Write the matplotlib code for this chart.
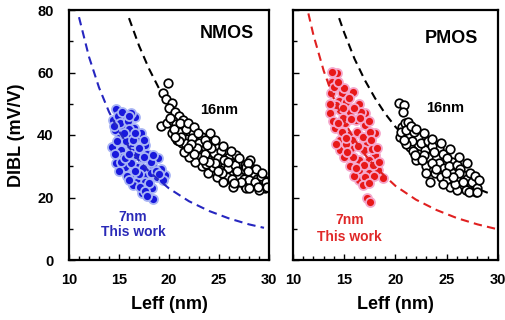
import numpy as np
import matplotlib
matplotlib.use('Agg')
import matplotlib.pyplot as plt
from matplotlib.ticker import MultipleLocator

plt.rcParams['font.family'] = ['Liberation Sans', 'DejaVu Sans']
plt.rcParams['font.weight'] = 'bold'
plt.rcParams['axes.labelweight'] = 'bold'

# ---- NMOS data ----
n7_L = [14.7, 15.6, 16.6, 14.4, 15.4, 16.5, 15.9, 16.9, 17.6, 14.3, 16.1, 15.2, 16.3, 17.3,
        18.9, 14.7, 15.6, 16.8, 18.4, 16.1, 17.6, 19.6, 16.8, 18.8, 17.6, 17.3, 18.4, 18.3,
        14.9, 15.1, 15.9, 16.2, 14.6, 15.0, 15.7, 16.4, 17.2, 14.8, 15.4, 16.7, 17.8, 18.2,
        15.2, 16.2, 17.4, 19.2, 15.8, 17.0, 18.2, 19.4, 16.4, 17.1, 18.0, 17.6, 15.6, 14.6,
        17.0, 16.0, 15.3, 16.0, 14.5, 15.5, 16.6, 17.5, 16.0, 17.5, 18.4, 18.7, 19.0, 16.6,
        15.0, 16.0, 17.8]
n7_D = [48.3, 46.4, 45.8, 44.8, 42.7, 42.1, 40.0, 39.5, 36.8, 36.3, 36.8, 35.2, 34.7, 32.5,
        32.5, 30.9, 29.9, 29.9, 29.9, 27.2, 27.2, 27.2, 25.0, 26.7, 25.0, 21.3, 19.4, 23.0,
        46.0, 44.0, 44.5, 47.0, 41.5, 39.0, 38.0, 38.5, 40.5, 38.0, 33.0, 33.5, 34.0, 31.5,
        31.5, 31.0, 29.5, 29.0, 27.0, 27.5, 27.8, 25.5, 24.0, 23.5, 24.5, 22.0, 32.5, 34.0,
        36.0, 42.0, 47.5, 46.0, 43.0, 40.5, 40.5, 38.5, 34.0, 33.0, 33.5, 28.5, 27.5, 28.5,
        28.5, 25.5, 20.5]

n16_L = [19.9, 19.4, 19.7, 20.3, 20.0, 20.6, 21.0, 19.2, 19.8, 20.4, 20.9, 21.4, 22.0, 21.3,
         21.8, 22.4, 22.6, 23.3, 21.3, 22.1, 22.9, 23.5, 24.1, 24.3, 24.8, 23.1, 23.8, 24.5,
         25.2, 26.0, 26.7, 25.0, 25.6, 24.3, 25.1, 26.2, 26.5, 27.1, 27.6, 27.3, 26.0, 26.9,
         27.8, 28.2, 28.5, 28.8, 29.1, 29.4, 28.3, 27.6, 29.6, 29.0, 26.4, 27.7, 25.6, 24.8,
         23.9, 23.3, 22.6, 22.0, 21.5, 20.8, 20.3, 21.6, 24.4, 25.8, 28.1, 27.7, 21.0, 21.7,
         22.3, 23.0, 23.6, 24.2, 24.9, 25.5, 25.9, 26.6, 27.0, 27.5, 28.0, 28.6, 29.2, 26.3,
         25.3, 24.6, 23.7, 22.8, 22.2, 21.2, 20.7, 20.1, 20.5, 21.1, 21.9, 22.5, 22.9, 23.6,
         24.6, 25.4, 26.2, 27.0, 27.9, 28.7, 29.3, 29.7, 29.8, 28.9, 28.0, 27.2, 26.5, 25.4,
         24.9, 24.0, 23.4, 22.5, 21.9, 21.0, 20.6, 26.8, 25.9, 27.9, 23.8]
n16_D = [56.8, 53.3, 51.6, 50.2, 48.6, 47.5, 46.0, 43.0, 43.8, 44.5, 42.2, 44.8, 43.0, 40.5,
         38.8, 41.0, 38.0, 39.5, 37.3, 35.5, 35.0, 36.5, 40.8, 37.5, 36.0, 33.0, 32.5, 34.2,
         35.0, 33.0, 33.6, 31.5, 30.5, 30.0, 28.8, 31.2, 29.0, 31.0, 30.5, 28.2, 27.5, 25.0,
         27.0, 29.5, 27.5, 26.0, 24.6, 25.8, 24.0, 23.8, 23.0, 22.5, 23.4, 23.0, 25.5, 26.5,
         28.0, 30.0, 31.5, 33.0, 34.5, 38.5, 40.5, 37.4, 29.8, 26.6, 32.0, 29.9, 41.0, 41.8,
         39.0, 37.5, 34.0, 35.8, 32.8, 32.0, 29.5, 30.5, 27.0, 26.0, 25.5, 25.0, 27.0, 26.0,
         27.8, 31.0, 30.6, 36.0, 37.0, 39.5, 43.5, 45.5, 42.0, 44.0, 44.0, 42.5, 40.5, 38.5,
         38.5, 36.5, 34.8, 32.5, 31.0, 29.0, 28.0, 25.0, 23.5, 23.5, 23.2, 25.0, 24.5, 25.0,
         28.5, 31.5, 32.0, 34.0, 36.0, 38.0, 39.5, 28.5, 31.5, 28.5, 36.8]

# ---- PMOS data ----
p7_L = [14.3, 13.8, 13.7, 14.8, 15.9, 13.6, 14.6, 15.6, 17.0, 16.1, 15.1, 17.0, 14.1, 16.2,
        15.4, 18.0, 14.6, 17.2, 15.7, 16.9, 14.6, 18.0, 16.4, 17.4, 16.4, 18.3, 17.4, 16.4,
        17.2, 17.5, 13.8, 18.8, 14.0, 14.5, 15.2, 15.0, 16.4, 14.2, 13.9, 14.9, 15.7, 16.6,
        16.8, 14.8, 15.8, 17.5, 15.2, 16.3, 17.7, 15.0, 15.9, 16.9, 17.8, 15.6, 16.0, 17.0,
        17.9, 16.8, 15.3, 14.2, 16.0, 14.4, 13.6, 15.5, 16.5, 17.4, 17.6, 18.2, 18.4, 16.1,
        17.4, 15.2, 14.4, 14.9]
p7_D = [59.7, 57.0, 53.3, 53.3, 53.9, 46.9, 48.0, 47.5, 46.9, 44.8, 43.7, 43.2, 42.1, 41.0,
        40.0, 40.5, 38.4, 37.9, 35.7, 35.2, 35.2, 33.6, 32.0, 32.0, 28.8, 28.8, 27.7, 25.6,
        19.7, 18.7, 60.3, 26.1, 55.5, 51.0, 50.5, 55.0, 50.0, 49.5, 44.5, 45.5, 45.0, 47.5,
        39.5, 41.0, 38.5, 41.0, 37.0, 36.5, 35.5, 33.0, 33.0, 30.5, 30.5, 30.0, 27.0, 26.5,
        27.0, 24.0, 34.5, 37.0, 48.5, 57.0, 50.0, 52.0, 45.5, 44.5, 38.5, 36.0, 31.5, 29.5,
        24.5, 39.0, 44.0, 48.5]

p16_L = [20.3, 20.8, 20.7, 20.6, 20.9, 21.2, 20.4, 21.3, 22.2, 21.4, 22.9, 24.2, 22.7, 24.2,
         25.5, 23.9, 25.5, 26.6, 25.3, 26.6, 27.8, 27.9, 26.9, 23.4, 20.5, 21.0, 21.8, 21.6,
         22.5, 23.2, 23.6, 22.2, 23.2, 23.8, 24.6, 25.0, 22.0, 23.0, 23.6, 24.7, 25.2, 26.0,
         26.3, 24.4, 25.0, 26.0, 26.2, 27.0, 27.3, 27.5, 28.0, 27.2, 26.0, 25.8, 24.6, 21.0,
         20.8, 21.7, 23.0, 21.5, 22.0, 22.8, 23.6, 24.4, 25.3, 26.2, 27.0, 27.8, 28.1, 28.0,
         26.6, 25.6, 24.9, 24.0, 22.8, 21.9, 22.6]
p16_D = [50.1, 49.6, 47.5, 42.7, 43.7, 44.3, 39.5, 39.5, 39.5, 36.3, 35.2, 35.7, 32.0, 30.9,
         31.5, 27.7, 27.7, 27.2, 23.5, 23.5, 24.0, 21.9, 22.4, 25.0, 41.0, 41.5, 41.0, 38.0,
         37.5, 38.0, 36.5, 34.0, 33.0, 34.5, 34.0, 32.5, 32.0, 30.0, 31.0, 29.5, 30.0, 30.5,
         29.0, 26.5, 26.0, 25.5, 28.0, 26.0, 28.0, 25.0, 23.0, 21.8, 22.5, 24.2, 24.2, 37.0,
         38.5, 35.0, 28.0, 43.0, 42.0, 40.5, 38.8, 37.5, 35.5, 33.0, 31.0, 27.0, 25.5, 21.8,
         25.0, 26.5, 28.0, 29.0, 33.5, 33.5, 32.0]

# ---- dashed trend lines ----
bl_L = [11.0, 12.0, 13.0, 14.0, 15.0, 16.0, 17.0, 18.0, 20.0, 22.0, 24.0, 26.0, 28.0, 29.5]
bl_D = [77.7, 65.0, 55.2, 47.4, 41.2, 36.1, 31.8, 28.3, 22.9, 18.8, 15.7, 13.3, 11.4, 10.3]
kn_L = [16.0, 17.0, 18.0, 19.0, 20.0, 21.0, 22.0, 24.0, 26.0, 28.0, 30.0]
kn_D = [77.4, 68.6, 61.2, 54.9, 49.5, 44.9, 40.9, 34.4, 29.3, 25.3, 22.0]
rd_L = [11.5, 12.0, 13.0, 14.0, 15.0, 16.0, 17.0, 18.0, 20.0, 22.0, 24.0, 26.0, 28.0, 30.0]
rd_D = [78.9, 71.9, 60.5, 51.5, 44.3, 38.5, 33.8, 29.8, 23.7, 19.3, 16.0, 13.4, 11.4, 9.8]
kp_L = [14.5, 15.0, 16.0, 17.0, 18.0, 19.0, 20.0, 22.0, 24.0, 26.0, 28.0, 29.0]
kp_D = [77.4, 72.7, 64.4, 57.6, 51.8, 46.8, 42.6, 35.7, 30.3, 26.1, 22.8, 21.5]

blue = '#1818dc'
red = '#e81818'
dash = (0, (4, 2.5))

fig = plt.figure(figsize=(5.06, 3.2), dpi=100)
ax1 = fig.add_axes([69/506, 60/320, 200/506, 250/320])
ax2 = fig.add_axes([293/506, 60/320, 205/506, 250/320])

ax1.plot(kn_L, kn_D, ls=dash, color='black', lw=1.5, zorder=1)
ax1.scatter(n16_L, n16_D, s=38, facecolor='white', edgecolor='black', linewidth=1.25, zorder=2)
ax1.scatter(n7_L, n7_D, s=42, color=blue, edgecolor='#a8b4f4', linewidth=1.3, zorder=2)
ax1.plot(bl_L, bl_D, ls=dash, color='#2626c0', lw=1.5, zorder=3)
ax1.text(25.8, 72.5, 'NMOS', fontsize=13, ha='center', va='center')
ax1.text(25.0, 48, '16nm', fontsize=10.5, ha='center', va='center')
ax1.text(16.4, 13.8, '7nm', fontsize=10, ha='center', va='center', color='#2a2ab8')
ax1.text(16.4, 9.0, 'This work', fontsize=10, ha='center', va='center', color='#2a2ab8')

ax2.plot(kp_L, kp_D, ls=dash, color='black', lw=1.5, zorder=1)
ax2.scatter(p16_L, p16_D, s=38, facecolor='white', edgecolor='black', linewidth=1.25, zorder=2)
ax2.scatter(p7_L, p7_D, s=42, color=red, edgecolor='#f4a8cc', linewidth=1.3, zorder=2)
ax2.plot(rd_L, rd_D, ls=dash, color='#e02020', lw=1.5, zorder=3)
ax2.text(25.5, 71, 'PMOS', fontsize=13, ha='center', va='center')
ax2.text(24.8, 48.6, '16nm', fontsize=10.5, ha='center', va='center')
ax2.text(15.5, 12.8, '7nm', fontsize=10, ha='center', va='center', color='#e02828')
ax2.text(15.5, 7.5, 'This work', fontsize=10, ha='center', va='center', color='#e02828')

for ax in (ax1, ax2):
    ax.set_xlim(10, 30)
    ax.set_ylim(0, 80)
    for sp in ax.spines.values():
        sp.set_linewidth(1.6)
    ax.xaxis.set_major_locator(MultipleLocator(5))
    ax.xaxis.set_minor_locator(MultipleLocator(1))
    ax.yaxis.set_major_locator(MultipleLocator(20))
    ax.yaxis.set_minor_locator(MultipleLocator(10))
    ax.tick_params(which='both', direction='in', width=1.0)
    ax.tick_params(which='major', length=4)
    ax.tick_params(which='minor', length=3)
    ax.tick_params(axis='x', which='major', pad=9, labelsize=10.5)
    ax.set_xlabel('Leff (nm)', fontsize=13)
    ax.xaxis.set_label_coords(0.5, -0.145)

ax1.tick_params(axis='y', which='major', pad=11, labelsize=10.5)
ax1.set_ylabel('DIBL (mV/V)', fontsize=13)
ax1.yaxis.set_label_coords(-0.22, 0.5)
ax2.tick_params(axis='y', labelleft=False)

fig.savefig('out.png', dpi=100)
